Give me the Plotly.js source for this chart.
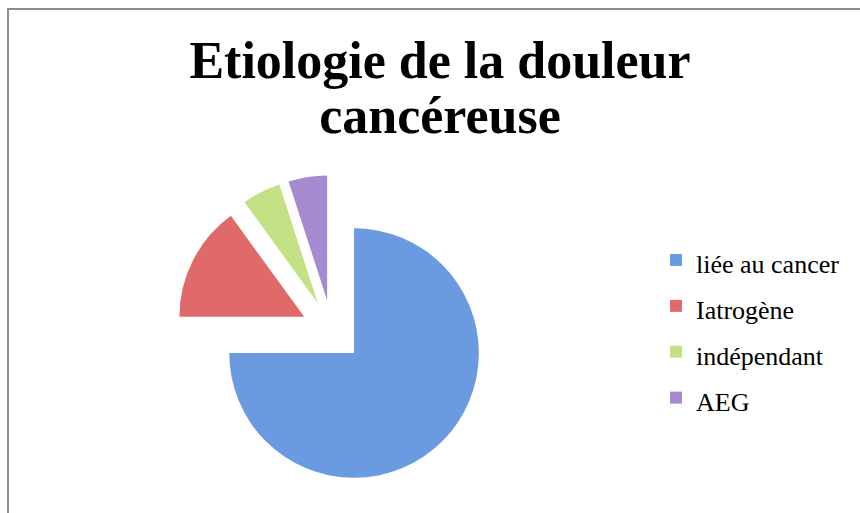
<!DOCTYPE html>
<html>
<head>
<meta charset="utf-8">
<script src="https://cdn.plot.ly/plotly-3.0.1.min.js"></script>
<style>html,body{margin:0;padding:0;background:#fff;}#chart{width:860px;height:513px;}</style>
</head>
<body>
<div id="chart"></div>
<script>
const categories = ["liée au cancer", "Iatrogène", "indépendant", "AEG"];
const values = [75, 15, 5, 5];
const colors = ["#6a9ae0", "#e06a6a", "#c3e285", "#a58ad2"];
const titleLines = ["Etiologie de la douleur", "cancéreuse"];

const W = 860, H = 513;
const trace = {
  type: "pie",
  labels: categories.map(c => '<span style="font-size:26px">' + c + '</span>'),
  values: values,
  sort: false,
  direction: "clockwise",
  rotation: 0,
  pull: values.map(() => 0.25),
  textinfo: "none",
  hoverinfo: "label+percent",
  marker: { colors: colors, line: { width: 0 } },
  domain: { x: [176 / W, 488 / W], y: [26 / H, 338 / H] }
};

const layout = {
  width: W, height: H,
  margin: { l: 0, r: 0, t: 0, b: 0 },
  paper_bgcolor: "#ffffff",
  title: {
    text: "<b>" + titleLines.map(t => '<span style="font-size:52px">' + t + '</span>').join("<br>") + "</b>",
    font: { family: "Liberation Serif, serif", size: 42, color: "#000000" },
    x: 440 / W, xanchor: "center",
    y: 1 - 78 / H, yanchor: "top"
  },
  showlegend: true,
  legend: {
    x: 656 / W, xanchor: "left",
    y: 1 - 232 / H, yanchor: "top",
    font: { family: "Liberation Serif, serif", size: 33, color: "#000000" },
    bgcolor: "rgba(0,0,0,0)"
  },
  shapes: [{
    type: "rect", xref: "paper", yref: "paper",
    x0: 8 / W, x1: 1.05, y0: -0.05, y1: 1 - 9 / H,
    line: { color: "#8c8c8c", width: 2 }, fillcolor: "rgba(0,0,0,0)", layer: "below"
  }]
};

Plotly.newPlot("chart", [trace], layout, { displayModeBar: false, staticPlot: true });
</script>
</body>
</html>
